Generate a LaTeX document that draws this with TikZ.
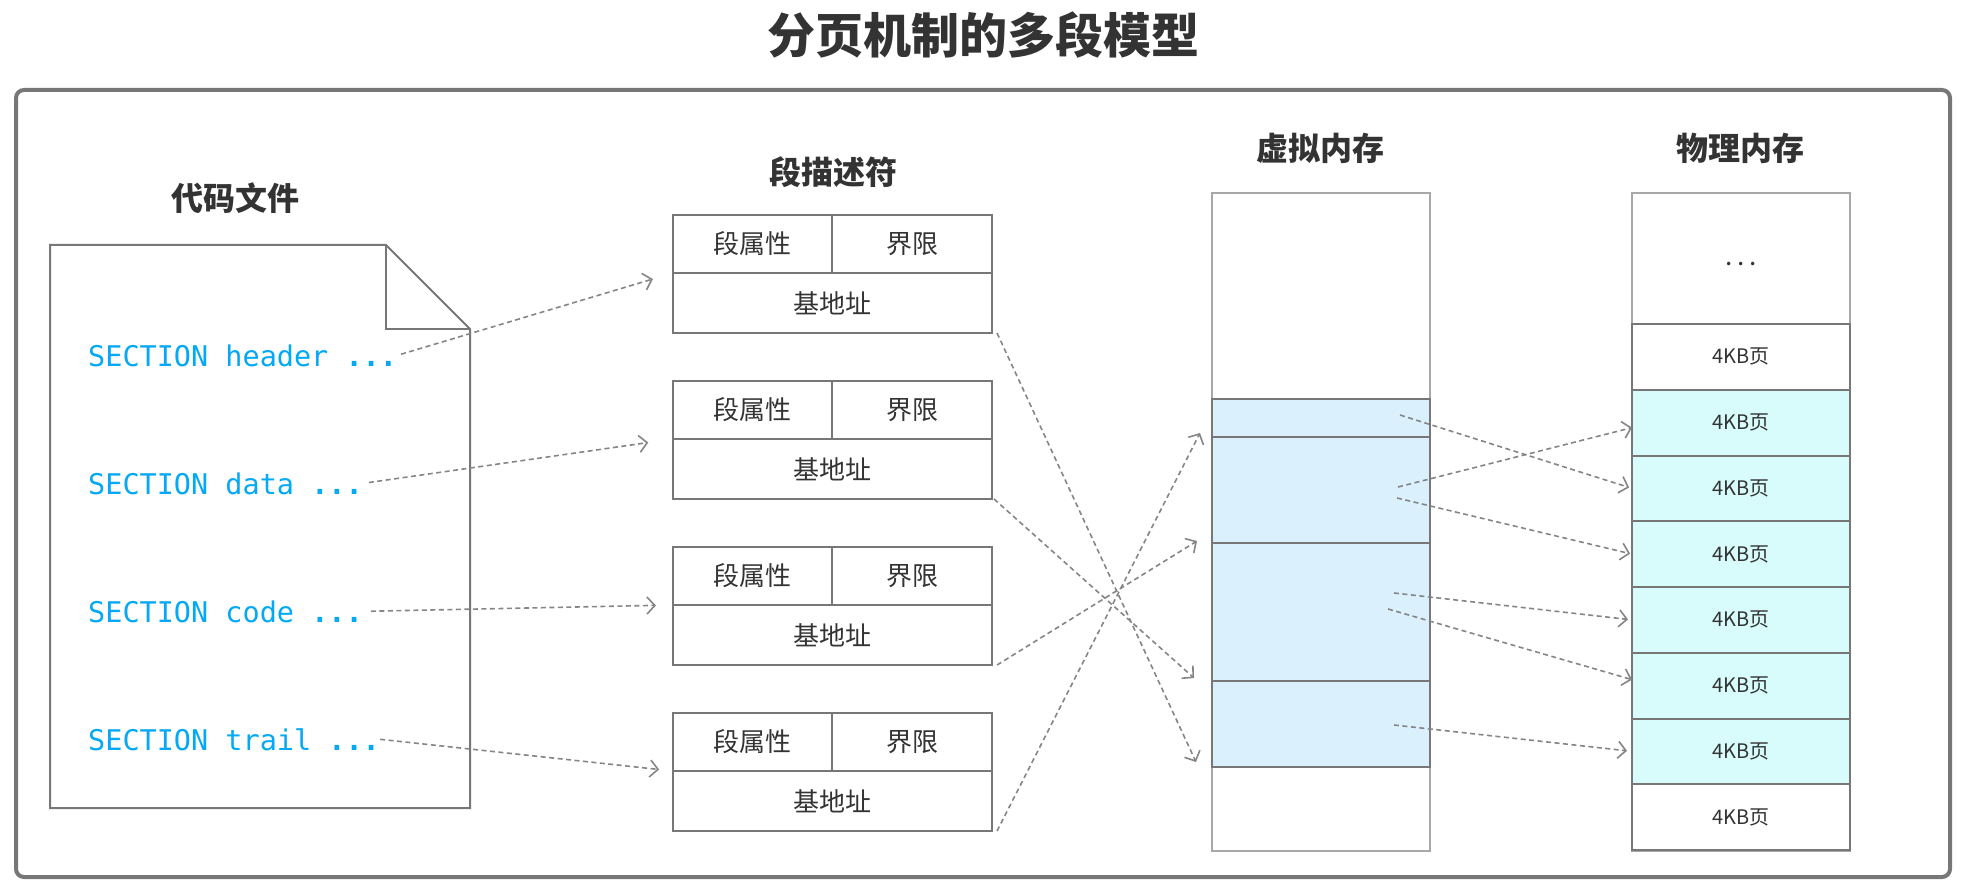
\documentclass[tikz,border=0pt]{standalone}
\usepackage{fontspec}
\setmainfont{Noto Sans CJK SC}
\setmonofont{DejaVu Sans Mono}
\usetikzlibrary{positioning, arrows.meta}
\definecolor{pgline}{HTML}{777777}
\definecolor{pglight}{HTML}{A8A8A8}
\definecolor{pgtext}{HTML}{333333}
\definecolor{pgcode}{HTML}{03A9F4}
\definecolor{pgvirt}{HTML}{DAF0FC}
\definecolor{pgphys}{HTML}{D8FCFC}

\begin{document}
\begin{tikzpicture}[x=1pt, y=-1pt,
    cell/.style={draw=pgline, line width=2pt, inner sep=0pt, outer sep=0pt,
                 text=pgtext, font=\fontsize{26}{30}\selectfont},
    heading/.style={text=pgtext, font=\fontsize{32}{38}\selectfont\bfseries},
    codeline/.style={anchor=base west, inner sep=0pt, text=pgcode,
                     font=\fontsize{28.5}{34}\selectfont\ttfamily},
    link/.style={draw=pgline!90, line width=1.6pt, dash pattern=on 5pt off 3.5pt,
                 -{Straight Barb[length=8pt, width=17pt, line width=1.6pt]}}]
  \useasboundingbox (0,0) rectangle (1969,893);
  \node[text=pgtext, font=\fontsize{48}{56}\selectfont\bfseries] (title) at (983,35) {分页机制的多段模型};
  \draw[pgline, line width=4pt, rounded corners=8pt] (16,90) rectangle (1950,877);

  % code file
  \node[heading] (filehd) at (235,198) {代码文件};
  \draw[pgline, line width=2pt] (50,245) -- (386,245) -- (470,329) -- (470,808) -- (50,808) -- cycle;
  \draw[pgline, line width=2pt] (386,245) -- (386,329) -- (470,329);
  \node[codeline] (hdr) at (88,366) {SECTION header \textbf{...}};
  \node[codeline] (dat) at (88,494) {SECTION data \textbf{...}};
  \node[codeline] (cod) at (88,622) {SECTION code \textbf{...}};
  \node[codeline] (trl) at (88,750) {SECTION trail \textbf{...}};

  % segment descriptors
  \node[heading] (deschd) at (833,172) {段描述符};
  \foreach \i/\y in {1/215, 2/381, 3/547, 4/713} {
    \node[cell, minimum width=159pt, minimum height=58pt, anchor=north west] (attr\i) at (673,\y) {段属性};
    \node[cell, minimum width=160pt, minimum height=58pt, right=0pt of attr\i] (lim\i) {界限};
    \node[cell, minimum width=319pt, minimum height=60pt, below=0pt of attr\i.south west, anchor=north west] (base\i) {基地址};
  }

  % virtual memory
  \node[heading] (virthd) at (1320,148) {虚拟内存};
  \node[draw=pglight, line width=2pt, inner sep=0pt, outer sep=0pt, minimum width=218pt,
        minimum height=658pt, anchor=north west] (vmem) at (1212,193) {};
  \node[cell, fill=pgvirt, minimum width=218pt, minimum height=38pt, anchor=north west] (seg1) at (1212,399) {};
  \node[cell, fill=pgvirt, minimum width=218pt, minimum height=106pt, below=0pt of seg1] (seg2) {};
  \node[cell, fill=pgvirt, minimum width=218pt, minimum height=138pt, below=0pt of seg2] (seg3) {};
  \node[cell, fill=pgvirt, minimum width=218pt, minimum height=86pt, below=0pt of seg3] (seg4) {};

  % physical memory
  \node[heading] (physhd) at (1740,148) {物理内存};
  \node[draw=pglight, line width=2pt, inner sep=0pt, outer sep=0pt, minimum width=218pt,
        minimum height=658pt, anchor=north west] (pmem) at (1632,193) {};
  \node[text=pgtext, font=\fontsize{26}{30}\selectfont] (dots) at (1741,264) {.\kern5pt.\kern5pt.};
  \foreach \k/\fc in {1/white, 2/pgphys, 3/pgphys, 4/pgphys, 5/pgphys, 6/pgphys, 7/pgphys, 8/white}
    \node[cell, fill=\fc, minimum width=218pt, minimum height=65.75pt, anchor=north west,
          font=\fontsize{20}{24}\selectfont] (row\k) at (1632,{324+(\k-1)*65.75}) {4KB页};

  % code -> descriptors
  \draw[link, shorten <=4pt, shorten >=21pt] (hdr.east) -- (attr1.south west);
  \draw[link, shorten <=6pt, shorten >=25pt] (dat.east) -- (attr2.south west);
  \draw[link, shorten <=8pt, shorten >=17pt] (cod.east) -- (attr3.south west);
  \draw[link, shorten <=0pt, shorten >=14pt] (trl.east) -- (attr4.south west);

  % descriptors -> virtual memory
  \draw[link] ([xshift=5pt]base1.south east) -- ([xshift=-16pt, yshift=5pt]seg4.south west);
  \draw[link] ([xshift=2pt]base2.south east) -- ([xshift=-18pt, yshift=3pt]seg3.south west);
  \draw[link] ([xshift=5pt]base3.south east) -- ([xshift=-15pt, yshift=2pt]seg2.south west);
  \draw[link] ([xshift=5pt]base4.south east) -- ([xshift=-12pt, yshift=4pt]seg1.south west);

  % virtual memory -> physical pages
  \coordinate (v1) at (1400,415);
  \coordinate (v2) at (1398,487);
  \coordinate (v3) at (1397,498);
  \coordinate (v4) at (1394,593);
  \coordinate (v5) at (1388,609);
  \coordinate (v6) at (1394,725);
  \draw[link, shorten >=3pt] (v1) -- (row3.west);
  \draw[link] (v2) -- ([yshift=-5pt]row2.west);
  \draw[link, shorten >=2pt] (v3) -- (row4.west);
  \draw[link, shorten >=4pt] (v4) -- (row5.west);
  \draw[link] (v5) -- ([yshift=6pt]row6.west);
  \draw[link, shorten >=5pt] (v6) -- (row7.west);
\end{tikzpicture}
\end{document}
